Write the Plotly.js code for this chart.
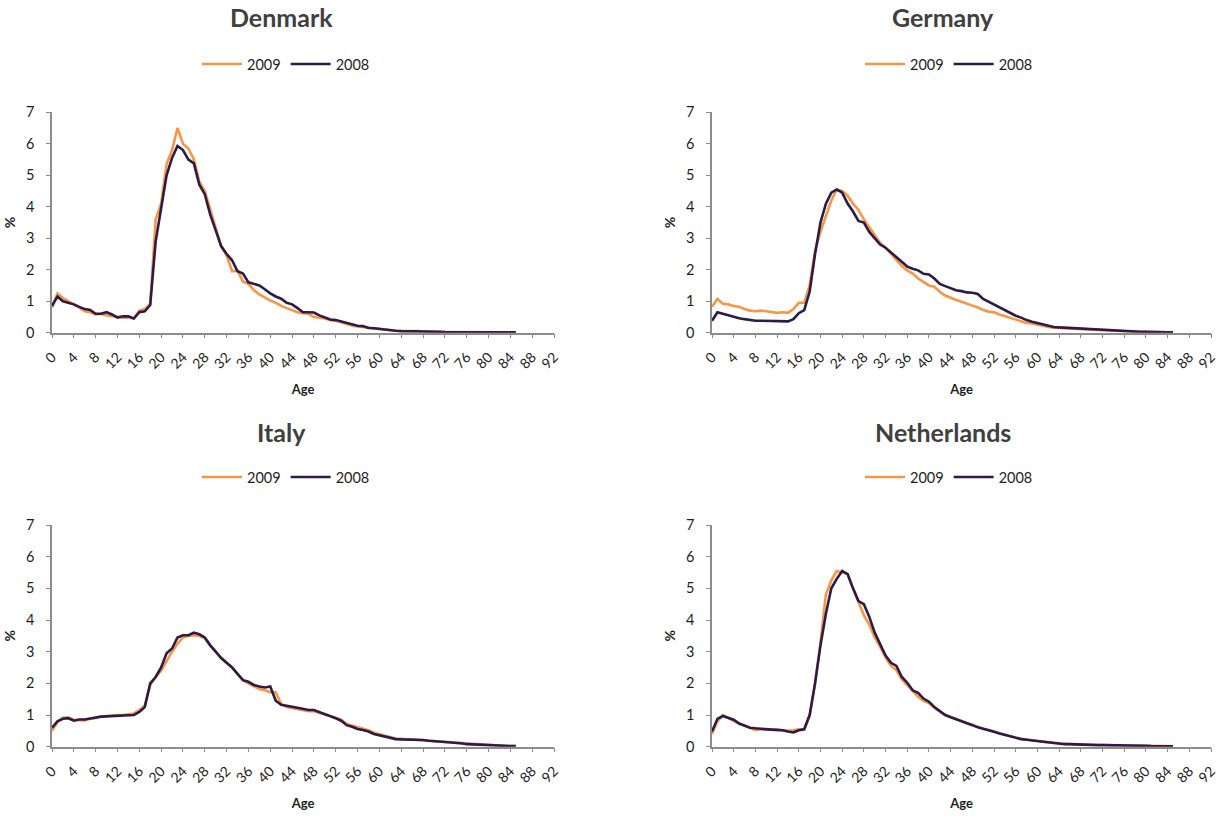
<!DOCTYPE html>
<html><head><meta charset="utf-8">
<script src="https://cdn.plot.ly/plotly-3.0.1.min.js"></script>
<style>html,body{margin:0;padding:0;background:#fff}#chart{width:1222px;height:816px}</style>
</head><body><div id="chart"></div>
<script>
const ages = [0,1,2,3,4,5,6,7,8,9,10,11,12,13,14,15,16,17,18,19,20,21,22,23,24,25,26,27,28,29,30,31,32,33,34,35,36,37,38,39,40,41,42,43,44,45,46,47,48,49,50,51,52,53,54,55,56,57,58,59,60,61,62,63,64,65,66,67,68,69,70,71,72,73,74,75,76,77,78,79,80,81,82,83,84,85];
const xTickVals = [0,4,8,12,16,20,24,28,32,36,40,44,48,52,56,60,64,68,72,76,80,84,88,92];
const countries = ["Denmark","Germany","Italy","Netherlands"];
const seriesNames = ["2009","2008"];

const denmark2009 = [0.80,1.25,1.10,1.00,0.92,0.80,0.68,0.65,0.58,0.60,0.55,0.52,0.50,0.48,0.48,0.45,0.70,0.75,0.92,3.60,4.10,5.35,5.80,6.50,6.00,5.85,5.50,4.80,4.50,3.90,3.30,2.75,2.45,1.95,1.97,1.62,1.55,1.35,1.22,1.12,1.02,0.95,0.85,0.78,0.72,0.65,0.62,0.60,0.50,0.48,0.45,0.40,0.38,0.33,0.28,0.22,0.20,0.18,0.14,0.12,0.10,0.08,0.06,0.06,0.05,0.05,0.07,0.05,0.04,0.03,0.03,0.03,0.02,0.02,0.02,0.02,0.02,0.02,0.01,0.01,0.01,0.01,0.01,0.01,0.01,0.01];
const denmark2008 = [0.85,1.15,1.00,0.95,0.90,0.82,0.75,0.72,0.60,0.60,0.65,0.58,0.48,0.52,0.52,0.45,0.65,0.68,0.88,2.90,4.00,5.00,5.55,5.93,5.80,5.50,5.38,4.70,4.40,3.75,3.25,2.75,2.50,2.30,1.95,1.88,1.60,1.55,1.50,1.38,1.25,1.15,1.08,0.95,0.90,0.78,0.65,0.65,0.64,0.55,0.48,0.42,0.40,0.35,0.30,0.25,0.22,0.21,0.15,0.14,0.12,0.08,0.06,0.06,0.05,0.05,0.05,0.04,0.04,0.03,0.03,0.03,0.02,0.02,0.02,0.02,0.02,0.02,0.02,0.01,0.01,0.01,0.01,0.01,0.01,0.01];
const germany2009 = [0.82,1.07,0.92,0.90,0.85,0.82,0.75,0.70,0.68,0.70,0.68,0.65,0.63,0.65,0.63,0.75,0.95,0.95,1.50,2.60,3.20,3.70,4.20,4.55,4.50,4.35,4.10,3.90,3.60,3.35,3.10,2.85,2.70,2.50,2.30,2.12,1.98,1.88,1.72,1.60,1.50,1.46,1.30,1.18,1.10,1.04,0.98,0.91,0.86,0.80,0.72,0.67,0.65,0.58,0.53,0.46,0.42,0.36,0.31,0.29,0.25,0.21,0.18,0.16,0.15,0.14,0.13,0.12,0.11,0.10,0.09,0.08,0.07,0.06,0.05,0.05,0.04,0.04,0.03,0.03,0.03,0.02,0.02,0.02,0.01,0.01];
const germany2008 = [0.38,0.65,0.60,0.55,0.50,0.46,0.43,0.40,0.38,0.38,0.38,0.37,0.38,0.36,0.36,0.43,0.62,0.72,1.30,2.50,3.50,4.10,4.45,4.55,4.45,4.10,3.85,3.55,3.50,3.20,3.00,2.80,2.70,2.55,2.38,2.22,2.10,2.03,1.98,1.87,1.85,1.72,1.55,1.48,1.42,1.35,1.32,1.28,1.27,1.23,1.07,0.98,0.90,0.80,0.72,0.61,0.54,0.48,0.40,0.35,0.31,0.26,0.21,0.18,0.17,0.16,0.15,0.14,0.13,0.12,0.10,0.09,0.08,0.07,0.06,0.05,0.05,0.04,0.04,0.03,0.03,0.02,0.02,0.02,0.01,0.01];
const italy2009 = [0.50,0.78,0.92,0.92,0.85,0.85,0.83,0.88,0.90,0.95,0.97,1.00,1.00,1.00,1.02,1.05,1.15,1.30,1.95,2.20,2.40,2.70,3.00,3.25,3.45,3.50,3.52,3.50,3.42,3.20,3.00,2.80,2.65,2.50,2.30,2.10,2.00,1.92,1.82,1.78,1.72,1.72,1.35,1.25,1.22,1.18,1.15,1.12,1.12,1.08,1.02,0.97,0.92,0.85,0.72,0.67,0.60,0.56,0.52,0.44,0.40,0.35,0.30,0.26,0.25,0.24,0.23,0.22,0.21,0.20,0.18,0.17,0.15,0.14,0.12,0.11,0.09,0.07,0.06,0.05,0.05,0.04,0.03,0.03,0.02,0.02];
const italy2008 = [0.60,0.80,0.88,0.90,0.82,0.86,0.86,0.90,0.92,0.95,0.96,0.98,0.98,0.98,1.00,1.00,1.10,1.25,2.00,2.20,2.50,2.95,3.10,3.45,3.52,3.52,3.60,3.55,3.45,3.20,3.00,2.80,2.65,2.50,2.30,2.10,2.05,1.95,1.90,1.87,1.90,1.45,1.32,1.28,1.26,1.23,1.19,1.16,1.16,1.10,1.03,0.97,0.90,0.82,0.68,0.63,0.56,0.53,0.48,0.40,0.36,0.32,0.27,0.24,0.23,0.23,0.22,0.22,0.21,0.19,0.18,0.17,0.15,0.14,0.12,0.11,0.08,0.07,0.06,0.05,0.05,0.04,0.03,0.03,0.02,0.02];
const netherlands2009 = [0.40,0.80,1.00,0.90,0.82,0.72,0.67,0.60,0.52,0.55,0.55,0.54,0.53,0.52,0.50,0.52,0.55,0.55,0.95,2.00,3.30,4.80,5.25,5.55,5.50,5.45,5.00,4.60,4.15,3.85,3.45,3.15,2.82,2.55,2.42,2.12,1.95,1.75,1.58,1.45,1.38,1.22,1.10,1.00,0.95,0.88,0.80,0.75,0.69,0.62,0.57,0.53,0.48,0.42,0.37,0.33,0.28,0.25,0.22,0.20,0.18,0.16,0.14,0.12,0.10,0.08,0.08,0.07,0.07,0.06,0.06,0.05,0.05,0.05,0.04,0.04,0.04,0.03,0.03,0.03,0.03,0.02,0.02,0.02,0.02,0.01];
const netherlands2008 = [0.48,0.88,0.97,0.92,0.85,0.73,0.67,0.60,0.58,0.56,0.55,0.54,0.53,0.52,0.48,0.45,0.52,0.55,1.00,2.00,3.20,4.20,5.00,5.30,5.55,5.45,5.00,4.60,4.50,4.10,3.60,3.25,2.88,2.65,2.55,2.20,2.02,1.78,1.70,1.52,1.42,1.25,1.12,1.00,0.93,0.86,0.79,0.74,0.68,0.61,0.57,0.53,0.47,0.42,0.37,0.33,0.27,0.24,0.22,0.20,0.18,0.16,0.14,0.12,0.09,0.08,0.08,0.07,0.07,0.06,0.06,0.05,0.05,0.05,0.04,0.04,0.04,0.03,0.03,0.03,0.03,0.02,0.02,0.02,0.02,0.01];

const seriesByCountry = [
  [denmark2009, denmark2008],
  [germany2009, germany2008],
  [italy2009, italy2008],
  [netherlands2009, netherlands2008]
];

const W = 1222, H = 816;
const colors = ["#F79646", "#2E1A47"];
const FONT = "Lato, 'Noto Sans', sans-serif";
const textColor = "#404040";
const labelColor = "#1E1E1E";
const axisColor = "#8C8C8C";

// panel geometry in pixels: [left, right, bottom(y0), top(y7)]
const panels = [
  [52, 554, 332.7, 112.3],
  [712, 1211, 332.7, 112.3],
  [52, 554, 746.7, 525],
  [712, 1211, 746.7, 525]
];
const titleCenters = [[281, 17], [943, 17], [281, 432], [943, 432]];
const legendCenters = [[286, 64], [949, 64], [286, 477], [949, 477]];

const traces = [];
const layout = {
  width: W, height: H,
  margin: {l: 0, r: 0, t: 0, b: 0},
  paper_bgcolor: "#fff", plot_bgcolor: "#fff",
  font: {family: FONT, color: textColor, size: 14},
  showlegend: true,
  annotations: []
};

panels.forEach((p, i) => {
  const n = i + 1;
  const xa = "x" + (n === 1 ? "" : n), ya = "y" + (n === 1 ? "" : n);
  const xk = "xaxis" + (n === 1 ? "" : n), yk = "yaxis" + (n === 1 ? "" : n);
  const lg = "legend" + (n === 1 ? "" : n);
  seriesNames.forEach((name, s) => {
    traces.push({
      type: "scatter", mode: "lines",
      x: ages, y: seriesByCountry[i][s],
      name: name,
      xaxis: xa, yaxis: ya,
      legend: lg,
      line: {color: colors[s], width: 2.6},
      hoverinfo: "x+y+name"
    });
  });
  layout[xk] = {
    domain: [p[0] / W, p[1] / W],
    anchor: ya,
    range: [0, 92],
    tickmode: "array", tickvals: xTickVals,
    tickangle: -45,
    ticks: "outside", ticklen: 4, tickcolor: axisColor, tickwidth: 1.3,
    ticklabelstandoff: 5,
    ticklabeloverflow: "allow",
    showline: true, linecolor: axisColor, linewidth: 1.5,
    showgrid: false, zeroline: false,
    tickfont: {family: FONT, size: 14, color: labelColor},
    title: {text: "<b>Age</b>", font: {family: FONT, size: 13, color: labelColor}, standoff: 14}
  };
  layout[yk] = {
    domain: [1 - p[2] / H, 1 - p[3] / H],
    anchor: xa,
    range: [0, 7], dtick: 1,
    ticks: "outside", ticklen: 4, tickcolor: axisColor, tickwidth: 1.3,
    ticklabelstandoff: 9,
    showline: true, linecolor: axisColor, linewidth: 1.5,
    showgrid: false, zeroline: false,
    tickfont: {family: FONT, size: 14.5, color: labelColor},
    title: {text: "<b>%</b>", font: {family: FONT, size: 14, color: labelColor}, standoff: 7}
  };
  layout[lg] = {
    orientation: "h",
    x: legendCenters[i][0] / W, xanchor: "center",
    y: 1 - legendCenters[i][1] / H, yanchor: "middle",
    font: {family: FONT, size: 14.5, color: labelColor},
    bgcolor: "rgba(0,0,0,0)",
    itemwidth: 40
  };
  layout.annotations.push({
    text: "<b>" + countries[i] + "</b>",
    xref: "paper", yref: "paper",
    x: titleCenters[i][0] / W, y: 1 - titleCenters[i][1] / H,
    xanchor: "center", yanchor: "middle",
    showarrow: false,
    font: {family: FONT, size: 25, color: textColor}
  });
});

Plotly.newPlot("chart", traces, layout, {displayModeBar: false, staticPlot: false});
</script>
</body></html>
